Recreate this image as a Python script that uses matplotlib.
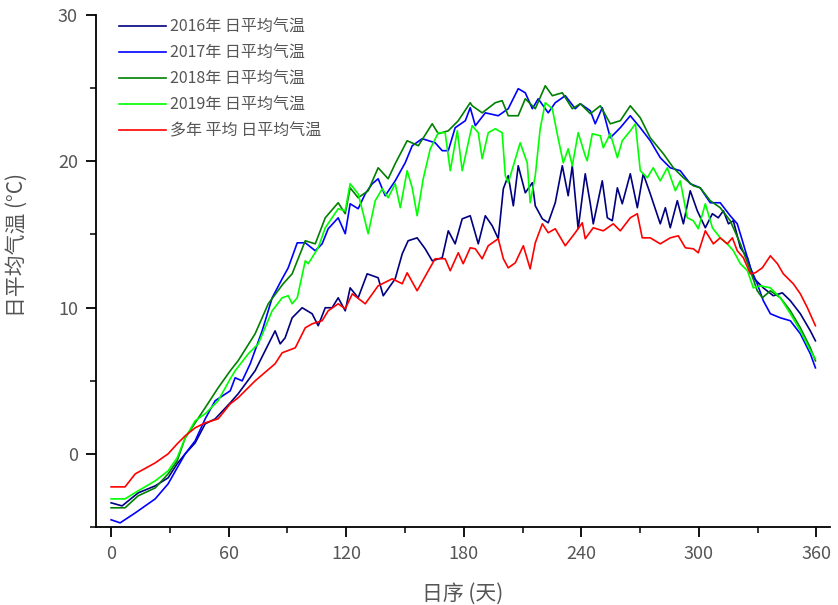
import numpy as np
import matplotlib.pyplot as plt
from matplotlib.ticker import MultipleLocator

plt.rcParams['font.family'] = ['Noto Sans CJK SC', 'DejaVu Sans']

# 日序 (天) 与各序列的日平均气温 (°C)
navy_day = [0, 5.6, 13.8, 22.5, 29.1, 33.7, 37.8, 42.9, 48.0, 53.1, 60.8, 64.8, 73.5, 78.6, 83.7, 86.3,
            88.8, 92.4, 97.5, 102.6, 105.7, 109.3, 112.8, 115.9, 119.5, 122.0, 126.1, 130.7, 136.3,
            138.9, 145.0, 148.6, 151.6, 156.2, 160.3, 163.9, 169.0, 172.1, 175.6, 179.2, 183.3, 187.4,
            191.0, 194.5, 197.6, 200.2, 202.7, 205.3, 207.8, 211.4, 215.0, 216.5, 220.1, 223.1, 226.7,
            230.3, 233.3, 235.4, 238.4, 242.0, 244.6, 246.1, 250.7, 253.3, 255.8, 258.4, 260.9, 265.0,
            268.6, 271.6, 275.2, 280.3, 282.9, 285.4, 289.0, 292.1, 295.6, 299.2, 303.3, 306.9, 309.9,
            312.5, 315.1, 317.6, 321.2, 324.8, 327.8, 332.9, 338.0, 342.6, 346.7, 351.8, 356.9, 359.5]
navy_val = [-3.35, -3.56, -2.67, -2.19, -1.64, -0.68, 0.0, 0.75, 2.05, 2.39, 3.49, 4.10, 5.68, 7.05, 8.41,
            7.52, 7.93, 9.30, 9.99, 9.58, 8.76, 9.99, 9.99, 10.67, 9.78, 11.35, 10.67, 12.31, 12.04, 10.81,
            11.97, 13.68, 14.57, 14.77, 14.02, 13.20, 13.41, 15.25, 14.36, 16.07, 16.28, 14.36, 16.28,
            15.60, 14.71, 18.13, 19.02, 16.96, 19.70, 17.85, 18.54, 16.96, 16.07, 15.80, 17.17, 19.70,
            17.65, 19.70, 15.39, 19.15, 17.10, 15.73, 18.67, 16.14, 15.94, 18.19, 17.10, 19.15, 16.83,
            19.15, 17.78, 15.73, 16.83, 15.46, 17.31, 15.73, 17.99, 16.62, 15.46, 16.42, 16.14, 16.62,
            15.73, 15.94, 14.09, 13.41, 12.04, 11.35, 10.81, 11.01, 10.47, 9.58, 8.41, 7.73]

blue_day = [0, 4.6, 12.3, 22.5, 29.1, 33.7, 37.8, 42.9, 48.0, 53.1, 60.8, 63.3, 66.9, 71.0, 77.1, 82.2,
            87.3, 90.4, 95.0, 99.1, 104.2, 107.7, 110.8, 115.9, 119.5, 122.0, 126.1, 129.7, 133.3, 136.3,
            139.9, 145.0, 150.1, 153.7, 158.8, 165.4, 169.0, 172.1, 175.6, 180.8, 183.3, 185.9, 191.0,
            197.6, 202.7, 207.8, 211.4, 215.0, 218.0, 223.1, 226.7, 231.8, 236.9, 239.5, 244.6, 247.1,
            250.7, 254.8, 259.9, 265.0, 270.1, 275.2, 280.3, 285.4, 290.5, 295.6, 300.7, 305.8, 310.9,
            316.0, 319.6, 322.7, 326.3, 329.8, 332.9, 336.5, 341.6, 346.7, 351.8, 356.9, 359.5]
blue_val = [-4.51, -4.72, -4.04, -3.08, -2.05, -0.96, 0.0, 0.89, 2.39, 3.63, 4.31, 5.20, 4.99, 6.16, 8.41,
            10.67, 11.97, 12.72, 14.43, 14.43, 13.89, 14.36, 15.39, 16.14, 15.05, 17.10, 16.76, 17.78,
            18.47, 18.81, 17.65, 18.67, 19.90, 21.07, 21.55, 21.27, 20.73, 20.73, 22.30, 22.78, 23.67,
            22.44, 23.32, 23.12, 23.60, 24.97, 24.69, 23.60, 24.28, 23.32, 24.01, 24.49, 23.60, 23.94,
            23.46, 22.57, 23.67, 21.61, 22.30, 23.12, 22.30, 21.41, 20.25, 19.56, 19.36, 18.47, 18.19,
            17.17, 17.17, 16.28, 15.73, 14.36, 12.72, 11.63, 10.47, 9.58, 9.30, 9.10, 8.21, 6.84, 5.88]

green_day = [0, 7.1, 13.8, 22.5, 29.1, 33.7, 37.8, 42.9, 48.0, 54.6, 60.8, 64.8, 73.5, 80.2, 87.8, 92.4,
             99.1, 104.2, 109.3, 115.9, 119.5, 122.0, 126.1, 131.2, 136.3, 141.4, 145.0, 151.1, 156.8,
             163.9, 167.0, 172.1, 177.2, 183.3, 184.3, 189.4, 196.1, 199.6, 202.7, 207.8, 211.4, 216.5,
             221.6, 225.2, 230.3, 235.4, 239.5, 244.6, 249.7, 254.8, 259.9, 265.0, 270.1, 275.2, 281.9,
             287.0, 292.1, 297.2, 300.7, 305.8, 310.9, 316.0, 321.2, 326.3, 329.8, 332.4, 336.5, 341.6,
             346.7, 351.8, 356.9, 359.5]
green_val = [-3.69, -3.69, -2.87, -2.33, -1.37, -0.48, 1.09, 2.12, 3.15, 4.51, 5.68, 6.36, 8.21, 10.26,
             11.63, 12.31, 14.57, 14.36, 16.14, 17.17, 16.42, 18.19, 17.51, 17.99, 19.56, 18.81, 19.84,
             21.41, 21.07, 22.57, 21.89, 22.09, 22.78, 24.01, 23.80, 23.32, 24.01, 24.15, 23.12, 23.12,
             24.28, 23.60, 25.17, 24.49, 24.69, 23.60, 23.94, 23.26, 23.80, 22.57, 22.78, 23.80, 22.98,
             21.61, 20.52, 19.56, 18.88, 18.33, 18.19, 17.31, 16.83, 15.94, 14.36, 12.52, 11.15, 10.67,
             11.15, 10.67, 9.78, 8.62, 7.25, 6.36]

lime_day = [0, 7.1, 13.8, 22.5, 29.1, 33.7, 37.8, 42.9, 48.0, 54.6, 60.8, 63.3, 70.0, 75.1, 82.2, 87.3,
            90.4, 92.4, 95.0, 99.1, 100.6, 105.7, 109.3, 115.9, 119.5, 122.0, 126.1, 128.7, 131.2, 134.8,
            138.4, 141.4, 145.0, 147.6, 151.1, 153.7, 156.2, 159.3, 162.9, 167.0, 170.5, 173.1, 176.7,
            179.2, 183.3, 184.3, 187.4, 189.4, 192.5, 196.1, 199.6, 201.2, 202.7, 205.3, 208.8, 212.4,
            213.9, 216.5, 219.0, 221.6, 225.2, 227.7, 230.8, 233.3, 235.4, 238.4, 242.0, 243.0, 245.6,
            249.7, 251.2, 254.8, 258.4, 260.9, 265.0, 267.6, 270.1, 273.7, 276.7, 280.3, 283.9, 288.0,
            290.5, 294.1, 297.2, 299.7, 303.3, 306.9, 310.9, 314.5, 317.6, 321.2, 324.8, 327.8, 331.4,
            336.5, 341.6, 346.7, 351.8, 356.9, 359.5]
lime_val = [-3.08, -3.08, -2.53, -1.85, -1.16, -0.27, 1.09, 2.26, 2.74, 3.63, 5.13, 5.68, 6.84, 7.52, 9.78,
            10.67, 10.81, 10.26, 10.67, 13.20, 13.00, 14.09, 15.46, 16.76, 16.62, 18.47, 17.78, 16.42,
            15.05, 17.31, 18.13, 17.51, 18.47, 16.83, 19.36, 18.19, 16.28, 18.81, 20.86, 21.96, 21.96,
            19.36, 22.09, 19.36, 21.89, 22.44, 21.96, 20.18, 21.96, 22.23, 21.96, 19.02, 18.54, 19.70,
            21.27, 19.90, 17.17, 19.02, 22.23, 24.01, 23.60, 21.89, 19.90, 20.86, 19.70, 21.96, 20.38,
            20.04, 21.89, 21.75, 20.93, 21.89, 20.25, 21.41, 22.09, 22.57, 19.36, 18.88, 19.56, 18.67,
            19.56, 17.99, 18.67, 16.14, 15.94, 15.39, 17.10, 15.46, 14.77, 14.36, 13.89, 13.00, 12.52,
            11.35, 11.49, 11.35, 10.67, 9.58, 8.41, 7.05, 6.50]

red_day = [0, 7.1, 12.3, 22.5, 29.1, 33.7, 37.8, 42.9, 48.0, 54.6, 60.8, 64.8, 73.5, 83.7, 87.3, 94.0,
           99.1, 102.6, 107.7, 110.8, 115.9, 119.5, 123.1, 129.7, 136.3, 143.5, 148.6, 151.1, 156.2, 161.9,
           165.4, 170.5, 173.1, 177.2, 179.7, 183.3, 185.9, 189.4, 192.5, 197.6, 200.2, 202.7, 206.3,
           210.4, 213.9, 216.5, 220.1, 223.1, 226.7, 231.8, 236.9, 240.5, 242.0, 246.1, 251.2, 256.3,
           259.9, 265.0, 268.6, 271.1, 275.2, 280.3, 285.4, 289.5, 293.1, 297.2, 299.7, 303.3, 307.4,
           310.9, 314.5, 317.1, 319.6, 322.7, 326.3, 328.8, 332.4, 336.5, 340.1, 343.1, 348.2, 351.8,
           355.4, 359.5]
red_val = [-2.26, -2.26, -1.37, -0.62, 0.0, 0.68, 1.23, 1.78, 2.12, 2.39, 3.42, 3.83, 4.99, 6.16, 6.91,
           7.25, 8.62, 8.89, 9.10, 9.78, 10.26, 9.92, 10.94, 10.26, 11.49, 11.97, 11.63, 12.38, 11.15,
           12.52, 13.34, 13.34, 12.52, 13.75, 13.00, 14.09, 14.02, 13.34, 14.23, 14.71, 13.34, 12.72,
           13.06, 14.23, 12.65, 14.43, 15.73, 15.12, 15.39, 14.23, 15.12, 15.80, 14.71, 15.46, 15.25,
           15.73, 15.25, 16.14, 16.42, 14.77, 14.77, 14.36, 14.77, 14.91, 14.09, 14.02, 13.75, 15.25,
           14.36, 14.77, 14.36, 14.77, 13.89, 13.41, 12.31, 12.38, 12.72, 13.54, 13.00, 12.31, 11.63,
           10.94, 9.99, 8.76]

series = [
    ('2016年 日平均气温', navy_day, navy_val, '#000080'),
    ('2017年 日平均气温', blue_day, blue_val, '#0000FF'),
    ('2018年 日平均气温', green_day, green_val, '#008000'),
    ('2019年 日平均气温', lime_day, lime_val, '#00FF00'),
    ('多年 平均 日平均气温', red_day, red_val, '#FF0000'),
]

x_ticks = [0, 60, 120, 180, 240, 300, 360]
y_ticks = [0, 10, 20, 30]
text_color = '#555555'

fig = plt.figure(figsize=(8.38, 6.05), dpi=100)
ax = fig.add_axes([0.1146, 0.129, 0.876, 0.846])

for name, d, v, c in series:
    ax.plot(np.array(d), np.array(v), color=c, lw=1.2, label=name)

ax.set_xlim(-7.7, 367)
ax.set_ylim(-5, 30)
ax.set_xticks(x_ticks)
ax.set_yticks(y_ticks)
ax.xaxis.set_minor_locator(MultipleLocator(30))
ax.yaxis.set_minor_locator(MultipleLocator(5))

for s in ['top', 'right']:
    ax.spines[s].set_visible(False)
for s in ['left', 'bottom']:
    ax.spines[s].set_linewidth(1.3)

ax.tick_params(which='major', direction='out', length=7, width=1.3,
               labelsize=13, labelcolor=text_color, pad=6)
ax.tick_params(which='minor', direction='out', length=4, width=1.1)

ax.set_xlabel('日序 (天)', fontsize=15, color=text_color, labelpad=14)
ax.set_ylabel('日平均气温 (°C)', fontsize=15, color=text_color)
ax.yaxis.set_label_coords(-0.093, 0.55)

ax.legend(loc='upper left', bbox_to_anchor=(0.022, 1.006), frameon=False,
          fontsize=11.5, handlelength=3.0, handletextpad=0.2, labelspacing=0.57,
          labelcolor=text_color, borderaxespad=0.0)

fig.savefig('out.png', dpi=100)
